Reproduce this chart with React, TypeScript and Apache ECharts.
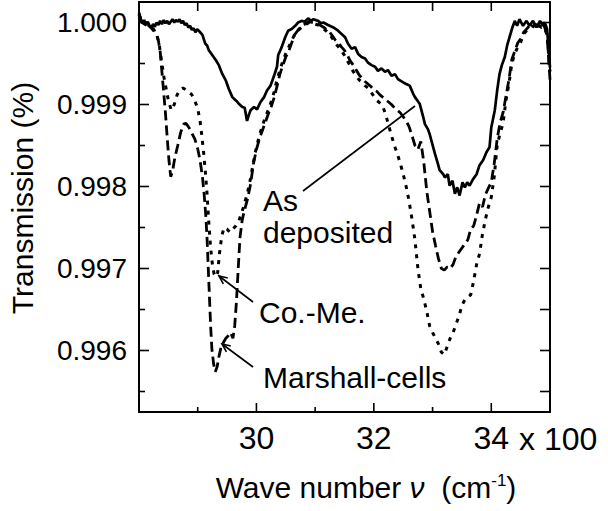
import React, { useEffect, useRef } from "react";
import * as echarts from "echarts";

const FONT = '"Liberation Sans", Arial, Helvetica, sans-serif';

const X_MIN = 28;
const X_MAX = 35;
const Y_MIN = 0.99525;
const Y_MAX = 1.00025;

const xMajorTicks = [30, 32, 34];
const xMinorTicks = [29, 31, 33];
const yMajorTicks = [0.996, 0.997, 0.998, 0.999, 1.0];
const yMinorTicks = [0.9955, 0.9965, 0.9975, 0.9985, 0.9995];
const xUnitSuffix = "x 100";

// As deposited (solid)
const asDepX = [28.0, 28.03, 28.06, 28.09, 28.12, 28.15, 28.18, 28.21, 28.24, 28.27, 28.3, 28.33, 28.36, 28.39, 28.42, 28.45, 28.48, 28.51, 28.54, 28.57, 28.6, 28.63, 28.66, 28.69, 28.72, 28.75, 28.78, 28.81, 28.84, 28.87, 28.9, 28.93, 28.96, 28.99, 29.03, 29.08, 29.13, 29.16, 29.19, 29.25, 29.31, 29.36, 29.42, 29.48, 29.53, 29.59, 29.65, 29.7, 29.76, 29.8, 29.84, 29.87, 29.9, 29.96, 30.01, 30.07, 30.13, 30.18, 30.24, 30.3, 30.35, 30.37, 30.43, 30.49, 30.54, 30.6, 30.66, 30.71, 30.77, 30.82, 30.88, 30.93, 30.97, 31.05, 31.1, 31.14, 31.22, 31.31, 31.39, 31.45, 31.51, 31.56, 31.62, 31.68, 31.73, 31.79, 31.85, 31.9, 31.96, 32.02, 32.07, 32.13, 32.19, 32.24, 32.3, 32.36, 32.41, 32.5, 32.55, 32.61, 32.67, 32.7, 32.78, 32.84, 32.87, 32.92, 32.95, 33.01, 33.04, 33.09, 33.12, 33.18, 33.21, 33.26, 33.29, 33.34, 33.38, 33.42, 33.46, 33.51, 33.55, 33.59, 33.63, 33.69, 33.75, 33.8, 33.86, 33.92, 33.97, 34.0, 34.06, 34.1, 34.14, 34.18, 34.23, 34.27, 34.31, 34.36, 34.4, 34.44, 34.48, 34.54, 34.6, 34.65, 34.71, 34.77, 34.83, 34.88, 34.91, 34.95, 34.97, 35.0];
const asDepY = [1.00012, 1.00004, 0.99999, 1.00003, 0.99997, 1.00001, 0.99996, 0.99993, 0.99998, 0.99995, 1.0, 0.99997, 1.00002, 0.99998, 1.00003, 0.99999, 1.00002, 0.99998, 1.00001, 1.00004, 1.0, 1.00003, 1.00001, 1.00004, 0.99999, 1.00002, 0.99997, 0.99999, 0.99994, 0.99996, 0.99991, 0.99993, 0.99988, 0.99992, 0.99989, 0.99985, 0.99974, 0.99972, 0.99966, 0.9996, 0.99954, 0.99948, 0.99937, 0.99929, 0.99919, 0.99909, 0.99905, 0.99901, 0.99897, 0.99896, 0.9988, 0.99887, 0.99893, 0.99897, 0.99894, 0.99903, 0.99909, 0.99917, 0.99923, 0.99935, 0.99946, 0.9996, 0.9997, 0.99982, 0.9999, 0.99992, 0.99996, 1.0, 1.00002, 1.00001, 1.00005, 1.00002, 1.00004, 1.00002, 0.99999, 1.0, 0.99997, 0.99994, 0.9999, 0.99986, 0.99982, 0.99974, 0.99968, 0.9997, 0.99962, 0.99958, 0.99956, 0.99951, 0.99948, 0.99946, 0.99941, 0.99944, 0.9994, 0.99942, 0.99935, 0.99937, 0.99931, 0.99927, 0.99925, 0.99923, 0.99913, 0.99909, 0.99901, 0.99885, 0.99876, 0.9987, 0.99864, 0.99848, 0.9984, 0.99828, 0.9982, 0.99815, 0.99811, 0.99815, 0.99801, 0.99807, 0.99791, 0.99799, 0.99789, 0.99805, 0.99799, 0.99805, 0.99801, 0.99809, 0.99815, 0.99826, 0.99832, 0.99842, 0.99848, 0.99872, 0.99893, 0.99917, 0.99937, 0.99948, 0.99958, 0.99972, 0.99982, 0.99994, 1.00002, 0.99996, 1.00004, 0.99996, 1.00002, 0.99996, 1.00002, 0.99994, 1.00002, 0.99996, 1.0, 0.99992, 0.99974, 0.99945];

// Marshall-cells (long dash)
const marshX = [28.0, 28.05, 28.1, 28.15, 28.2, 28.25, 28.3, 28.33, 28.36, 28.39, 28.42, 28.45, 28.48, 28.51, 28.54, 28.57, 28.61, 28.66, 28.71, 28.76, 28.8, 28.85, 28.9, 28.95, 29.0, 29.04, 29.08, 29.11, 29.14, 29.16, 29.18, 29.2, 29.22, 29.24, 29.27, 29.3, 29.33, 29.36, 29.4, 29.44, 29.48, 29.52, 29.56, 29.6, 29.63, 29.66, 29.69, 29.72, 29.76, 29.8, 29.85, 29.9, 29.95, 30.0, 30.05, 30.1, 30.15, 30.2, 30.25, 30.3, 30.35, 30.4, 30.45, 30.5, 30.55, 30.6, 30.65, 30.7, 30.75, 30.8, 30.85, 30.9, 30.95, 31.0, 31.05, 31.1, 31.15, 31.2, 31.25, 31.3, 31.35, 31.4, 31.45, 31.5, 31.55, 31.6, 31.65, 31.7, 31.75, 31.8, 31.85, 31.9, 31.95, 32.0, 32.05, 32.1, 32.15, 32.2, 32.25, 32.3, 32.35, 32.4, 32.45, 32.5, 32.55, 32.6, 32.65, 32.7, 32.75, 32.8, 32.85, 32.9, 32.95, 33.0, 33.05, 33.1, 33.15, 33.2, 33.25, 33.3, 33.35, 33.4, 33.45, 33.5, 33.55, 33.6, 33.65, 33.7, 33.75, 33.8, 33.85, 33.9, 33.95, 34.0, 34.05, 34.1, 34.15, 34.2, 34.25, 34.3, 34.35, 34.4, 34.45, 34.5, 34.55, 34.6, 34.65, 34.7, 34.75, 34.8, 34.85, 34.9, 34.95, 35.0];
const marshY = [1.0001, 1.0, 0.99998, 0.99997, 0.99994, 0.99992, 0.99985, 0.99978, 0.99965, 0.9994, 0.99915, 0.9989, 0.9986, 0.99832, 0.99812, 0.99818, 0.99835, 0.9985, 0.99866, 0.99876, 0.99877, 0.99872, 0.99865, 0.99858, 0.99846, 0.99832, 0.99812, 0.9979, 0.99762, 0.99735, 0.997, 0.99665, 0.9963, 0.99603, 0.99584, 0.99574, 0.9958, 0.99592, 0.99605, 0.9961, 0.99615, 0.99618, 0.99622, 0.99615, 0.9963, 0.9966, 0.997, 0.99738, 0.9976, 0.99772, 0.99785, 0.99803, 0.99828, 0.99845, 0.99858, 0.99868, 0.99878, 0.99888, 0.99897, 0.99908, 0.99922, 0.99937, 0.99948, 0.99958, 0.99965, 0.99975, 0.99985, 0.9999, 0.99994, 0.99997, 0.99999, 1.00001, 1.0, 0.99999, 0.99998, 0.99996, 0.99994, 0.99991, 0.99988, 0.99983, 0.99978, 0.99975, 0.9997, 0.99966, 0.9996, 0.99953, 0.99948, 0.99942, 0.99936, 0.99932, 0.99928, 0.99925, 0.99922, 0.99918, 0.99916, 0.99912, 0.99909, 0.99906, 0.99903, 0.999, 0.99896, 0.99893, 0.9989, 0.99885, 0.9988, 0.99873, 0.99862, 0.9985, 0.99845, 0.99855, 0.9983, 0.99795, 0.9977, 0.99745, 0.99728, 0.99712, 0.997, 0.99698, 0.99702, 0.997, 0.99705, 0.99715, 0.9972, 0.99725, 0.9973, 0.99735, 0.99748, 0.99752, 0.99765, 0.9978, 0.99775, 0.9979, 0.99798, 0.99805, 0.99828, 0.99858, 0.99878, 0.9989, 0.9991, 0.9993, 0.99955, 0.99965, 0.99975, 0.9998, 0.99988, 0.99992, 0.99996, 0.99994, 0.99998, 0.99995, 0.99999, 0.99996, 0.99985, 0.9993];

// Co.-Me. (short dashes)
const comeX = [28.0, 28.05, 28.1, 28.15, 28.2, 28.25, 28.3, 28.34, 28.38, 28.42, 28.46, 28.5, 28.55, 28.6, 28.65, 28.7, 28.75, 28.8, 28.85, 28.9, 28.95, 29.0, 29.04, 29.07, 29.1, 29.13, 29.16, 29.19, 29.22, 29.25, 29.28, 29.31, 29.34, 29.37, 29.41, 29.45, 29.5, 29.55, 29.6, 29.65, 29.7, 29.75, 29.8, 29.85, 29.9, 29.95, 30.0, 30.05, 30.1, 30.15, 30.2, 30.25, 30.3, 30.35, 30.4, 30.45, 30.5, 30.55, 30.6, 30.65, 30.7, 30.75, 30.8, 30.85, 30.9, 30.95, 31.0, 31.05, 31.1, 31.15, 31.2, 31.25, 31.3, 31.35, 31.4, 31.45, 31.5, 31.55, 31.6, 31.65, 31.7, 31.75, 31.8, 31.85, 31.9, 31.95, 32.0, 32.05, 32.1, 32.15, 32.2, 32.25, 32.3, 32.35, 32.4, 32.45, 32.5, 32.55, 32.6, 32.65, 32.7, 32.75, 32.8, 32.85, 32.9, 32.95, 33.0, 33.05, 33.1, 33.15, 33.2, 33.25, 33.3, 33.35, 33.4, 33.45, 33.5, 33.55, 33.6, 33.65, 33.7, 33.75, 33.8, 33.85, 33.9, 33.95, 34.0, 34.05, 34.1, 34.15, 34.2, 34.25, 34.3, 34.35, 34.4, 34.45, 34.5, 34.55, 34.6, 34.65, 34.7, 34.75, 34.8, 34.85, 34.9, 34.95, 35.0];
const comeY = [1.0001, 1.0, 0.99998, 0.99996, 0.99994, 0.9999, 0.99986, 0.99975, 0.99955, 0.99935, 0.9992, 0.99905, 0.99893, 0.999, 0.99912, 0.99918, 0.9992, 0.99918, 0.99915, 0.99912, 0.99905, 0.99895, 0.9988, 0.99862, 0.99842, 0.99818, 0.9979, 0.99755, 0.99725, 0.99705, 0.99693, 0.9969, 0.99695, 0.99718, 0.9974, 0.9975, 0.99748, 0.99744, 0.99748, 0.99752, 0.99758, 0.99768, 0.9978, 0.99793, 0.9981, 0.9983, 0.99848, 0.99862, 0.99874, 0.99884, 0.99893, 0.99903, 0.99915, 0.9993, 0.99942, 0.99953, 0.99962, 0.9997, 0.99978, 0.99985, 0.9999, 0.99993, 0.99996, 0.99998, 1.0, 0.99999, 0.99998, 0.99997, 0.99995, 0.99992, 0.99989, 0.99985, 0.9998, 0.99974, 0.9997, 0.99965, 0.9996, 0.99953, 0.99947, 0.9994, 0.99935, 0.9993, 0.99927, 0.99923, 0.9992, 0.99915, 0.9991, 0.99905, 0.99902, 0.99898, 0.99888, 0.99875, 0.99862, 0.9985, 0.9984, 0.99828, 0.99815, 0.998, 0.99782, 0.9976, 0.99735, 0.997, 0.99675, 0.99663, 0.99648, 0.9963, 0.99622, 0.99615, 0.99608, 0.99598, 0.99595, 0.99605, 0.99615, 0.99622, 0.99632, 0.99642, 0.99655, 0.99662, 0.99665, 0.99668, 0.99685, 0.99705, 0.99718, 0.99742, 0.9976, 0.99775, 0.99787, 0.99812, 0.9985, 0.99865, 0.99877, 0.99905, 0.99925, 0.9995, 0.99962, 0.9997, 0.99976, 0.99986, 0.9999, 0.99994, 0.99996, 0.99993, 0.99997, 0.99994, 0.99995, 0.99985, 0.9994];

const pairs = (xs: number[], ys: number[]) => xs.map((x, i) => [x, ys[i]]);

function arrowHead(tip: number[], tail: number[], len = 9, ang = 0.42) {
  const a = Math.atan2(tail[1] - tip[1], tail[0] - tip[0]);
  const p1 = [tip[0] + len * Math.cos(a + ang), tip[1] + len * Math.sin(a + ang)];
  const p2 = [tip[0] + len * Math.cos(a - ang), tip[1] + len * Math.sin(a - ang)];
  return {
    type: "polyline",
    shape: { points: [p1, tip, p2] },
    style: { stroke: "#000", lineWidth: 1.6, fill: "none" },
  };
}

function leader(from: number[], to: number[]) {
  return {
    type: "line",
    shape: { x1: from[0], y1: from[1], x2: to[0], y2: to[1] },
    style: { stroke: "#000", lineWidth: 1.6 },
  };
}

function label(text: string, x: number, y: number) {
  return {
    type: "text",
    x,
    y,
    style: {
      text,
      fill: "#000",
      fontFamily: FONT,
      fontSize: 30,
      align: "left",
      verticalAlign: "middle",
    },
  };
}

// Tick marks drawn through the axes' scales (inward, on all four sides)
function xTickSeries(values: number[], bottomLen: number, topLen: number) {
  return {
    type: "custom",
    silent: true,
    z: 5,
    clip: false,
    data: values.map((v) => [v, Y_MIN]),
    renderItem: (_p: any, api: any) => {
      const v = api.value(0);
      const b = api.coord([v, Y_MIN]);
      const t = api.coord([v, Y_MAX]);
      const st = { stroke: "#000", lineWidth: 1.6 };
      return {
        type: "group",
        children: [
          { type: "line", shape: { x1: b[0], y1: b[1], x2: b[0], y2: b[1] - bottomLen }, style: st },
          { type: "line", shape: { x1: t[0], y1: t[1], x2: t[0], y2: t[1] + topLen }, style: st },
        ],
      };
    },
  };
}

function yTickSeries(values: number[], leftLen: number, rightLen: number) {
  return {
    type: "custom",
    silent: true,
    z: 5,
    clip: false,
    data: values.map((v) => [X_MIN, v]),
    renderItem: (_p: any, api: any) => {
      const v = api.value(1);
      const l = api.coord([X_MIN, v]);
      const r = api.coord([X_MAX, v]);
      const st = { stroke: "#000", lineWidth: 1.6 };
      return {
        type: "group",
        children: [
          { type: "line", shape: { x1: l[0], y1: l[1], x2: l[0] + leftLen, y2: l[1] }, style: st },
          { type: "line", shape: { x1: r[0], y1: r[1], x2: r[0] - rightLen, y2: r[1] }, style: st },
        ],
      };
    },
  };
}

export default function App() {
  const ref = useRef<HTMLDivElement>(null);

  useEffect(() => {
    if (!ref.current) return;
    const chart = echarts.init(ref.current, undefined, { renderer: "svg" });

    const frameLine = { show: true, onZero: false, lineStyle: { color: "#000", width: 2 } };

    const option: any = {
      animation: false,
      backgroundColor: "#fff",
      grid: { left: 139, right: 58, top: 2, bottom: 99, containLabel: false },
      xAxis: [
        {
          type: "value",
          position: "bottom",
          min: X_MIN,
          max: X_MAX,
          axisLine: frameLine,
          axisTick: { show: false },
          axisLabel: {
            show: true,
            customValues: xMajorTicks,
            margin: 10,
            color: "#000",
            fontFamily: FONT,
            fontSize: 32,
            formatter: (v: number) => String(v),
          },
          splitLine: { show: false },
        },
        {
          type: "value",
          position: "top",
          min: X_MIN,
          max: X_MAX,
          axisLine: frameLine,
          axisTick: { show: false },
          axisLabel: { show: false },
          splitLine: { show: false },
        },
      ],
      yAxis: [
        {
          type: "value",
          position: "left",
          min: Y_MIN,
          max: Y_MAX,
          axisLine: frameLine,
          axisTick: { show: false },
          axisLabel: {
            show: true,
            customValues: yMajorTicks,
            margin: 12,
            color: "#000",
            fontFamily: FONT,
            fontSize: 28,
            formatter: (v: number) => v.toFixed(3),
          },
          splitLine: { show: false },
        },
        {
          type: "value",
          position: "right",
          min: Y_MIN,
          max: Y_MAX,
          axisLine: frameLine,
          axisTick: { show: false },
          axisLabel: { show: false },
          splitLine: { show: false },
        },
      ],
      series: [
        {
          name: "Co.-Me.",
          type: "line",
          showSymbol: false,
          data: pairs(comeX, comeY),
          lineStyle: { color: "#000", width: 3, type: [4, 6] },
        },
        {
          name: "Marshall-cells",
          type: "line",
          showSymbol: false,
          data: pairs(marshX, marshY),
          lineStyle: { color: "#000", width: 2.8, type: [10, 5] },
        },
        {
          name: "As deposited",
          type: "line",
          showSymbol: false,
          data: pairs(asDepX, asDepY),
          lineStyle: { color: "#000", width: 2.7, type: "solid" },
        },
        xTickSeries(xMajorTicks, 9, 9),
        xTickSeries(xMinorTicks, 5, 9),
        yTickSeries(yMajorTicks, 10, 10),
        yTickSeries(yMinorTicks, 6, 10),
      ],
      graphic: [
        {
          type: "text",
          x: 22,
          y: 198,
          rotation: Math.PI / 2,
          style: {
            text: "Transmission (%)",
            fill: "#000",
            fontFamily: FONT,
            fontSize: 30,
            align: "center",
            verticalAlign: "middle",
          },
        },
        {
          type: "text",
          x: 366,
          y: 487,
          style: {
            text: "Wave number {it|ν}  (cm{sup|-1})",
            fill: "#000",
            fontFamily: FONT,
            fontSize: 30,
            align: "center",
            verticalAlign: "middle",
            rich: {
              it: { fontFamily: FONT, fontSize: 30, fontStyle: "italic", fill: "#000" },
              sup: { fontFamily: FONT, fontSize: 17, verticalAlign: "top", fill: "#000" },
            },
          },
        },
        {
          type: "text",
          x: 519,
          y: 439,
          style: {
            text: xUnitSuffix,
            fill: "#000",
            fontFamily: FONT,
            fontSize: 32,
            align: "left",
            verticalAlign: "middle",
          },
        },
        label("As", 263, 200),
        label("deposited", 263, 232),
        leader([303, 191], [415, 106]),
        label("Co.-Me.", 259, 312),
        leader([253, 302], [219, 276]),
        arrowHead([219, 276], [253, 302]),
        label("Marshall-cells", 263, 377),
        leader([253, 367], [222, 344]),
        arrowHead([222, 344], [253, 367]),
      ],
    };

    chart.setOption(option);
    return () => chart.dispose();
  }, []);

  return (
    <div
      ref={ref}
      style={{ position: "fixed", left: 0, top: 0, width: 608, height: 511, background: "#fff" }}
    />
  );
}
